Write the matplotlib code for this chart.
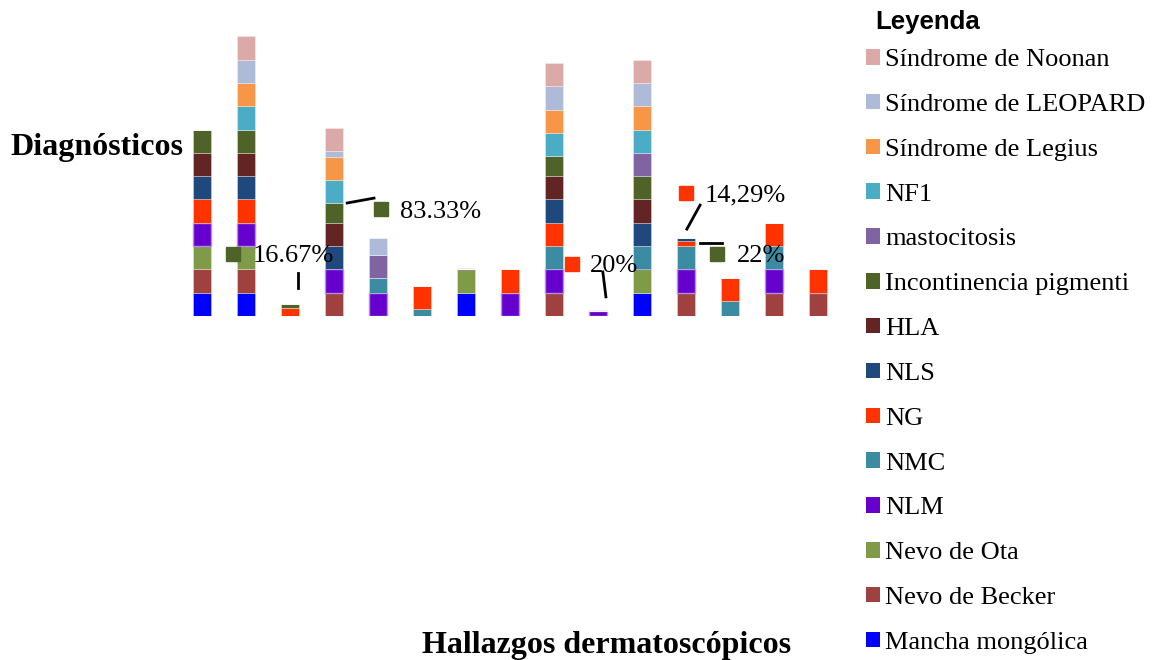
"""Stacked bars: dermatoscopic findings vs diagnoses."""

import matplotlib

matplotlib.use("Agg")
import matplotlib.pyplot as plt
import numpy as np
from matplotlib.patches import Patch

plt.rcParams["font.family"] = ["Liberation Serif", "DejaVu Serif"]

# 15 findings (x categories), unlabeled in the original
n_bars = 15

# stack order, bottom to top
series = [
    "Mancha mongólica",
    "Nevo de Becker",
    "Nevo de Ota",
    "NLM",
    "NMC",
    "NG",
    "NLS",
    "HLA",
    "Incontinencia pigmenti",
    "mastocitosis",
    "NF1",
    "Síndrome de Legius",
    "Síndrome de LEOPARD",
    "Síndrome de Noonan",
]
colors = [
    "#0000FF",
    "#9E413F",
    "#7F9B47",
    "#6600CC",
    "#3B8CA3",
    "#FF3300",
    "#1F497D",
    "#632523",
    "#4F6228",
    "#8064A2",
    "#4BACC6",
    "#F79646",
    "#ADBAD8",
    "#DBA9A8",
]

mancha = [1, 1, 0, 0, 0, 0, 1, 0, 0, 0, 1, 0, 0, 0, 0]
becker = [1, 1, 0, 1, 0, 0, 0, 0, 1, 0, 0, 1, 0, 1, 1]
ota = [1, 1, 0, 0, 0, 0, 1, 0, 0, 0, 1, 0, 0, 0, 0]
nlm = [1, 1, 0, 1, 1, 0, 0, 1, 1, 0.22, 0, 1, 0, 1, 0]
nmc = [0, 0, 0, 0, 0.62, 0.3, 0, 0, 1, 0, 1, 1, 0.64, 1, 0]
ng = [1, 1, 0.33, 0, 0, 1, 0, 1, 1, 0, 0, 0.22, 1, 1, 1]
nls = [1, 1, 0, 1, 0, 0, 0, 0, 1, 0, 1, 0.14, 0, 0, 0]
hla = [1, 1, 0, 1, 0, 0, 0, 0, 1, 0, 1, 0, 0, 0, 0]
incont = [1, 1, 0.17, 0.83, 0, 0, 0, 0, 0.86, 0, 1, 0, 0, 0, 0]
masto = [0, 0, 0, 0, 1, 0, 0, 0, 0, 0, 1, 0, 0, 0, 0]
nf1 = [0, 1, 0, 1, 0, 0, 0, 0, 1, 0, 1, 0, 0, 0, 0]
legius = [0, 1, 0, 1, 0, 0, 0, 0, 1, 0, 1, 0, 0, 0, 0]
leopard = [0, 1, 0, 0.25, 0.71, 0, 0, 0, 1, 0, 1, 0, 0, 0, 0]
noonan = [0, 1, 0, 1, 0, 0, 0, 0, 1, 0, 1, 0, 0, 0, 0]

values = [mancha, becker, ota, nlm, nmc, ng, nls, hla, incont, masto,
          nf1, legius, leopard, noonan]

# data labels: text, colour of key square, key pos, text pos, leader line
labels = [
    ("16.67%", "#4F6228", (0.70, 2.66), (1.16, 2.58), ((2.18, 1.85), (2.18, 1.20))),
    ("83.33%", "#4F6228", (4.07, 4.59), (4.50, 4.46), ((3.30, 4.85), (3.91, 5.06))),
    ("20%", "#FF3300", (8.41, 2.23), (8.82, 2.15), ((9.11, 1.89), (9.18, 0.82))),
    ("14,29%", "#FF3300", (11.00, 5.28), (11.43, 5.19), ((11.32, 4.76), (11.02, 3.73))),
    ("22%", "#4F6228", (11.70, 2.66), (12.16, 2.58), ((11.32, 3.13), (11.82, 3.13))),
]

W, H = 1153, 660
fig = plt.figure(figsize=(W / 100, H / 100), dpi=100)
ax = fig.add_axes([180 / W, 344 / H, 660 / W, 13 * 23.3 / H])

x = np.arange(n_bars)
bottom = np.zeros(n_bars)
for name, col, vals in zip(series, colors, values):
    vals = np.array(vals, dtype=float)
    lw = 1.0 if name == "NLM" else 0.5
    ec = "#B48BEA" if name == "NLM" else (1, 1, 1, 0.45)
    ax.bar(x, vals, 0.42, bottom=bottom, color=col, edgecolor=ec, linewidth=lw)
    bottom += vals

for text, col, key, tpos, line in labels:
    ax.plot(*key, marker="s", markersize=10, color=col, linestyle="none")
    ax.text(*tpos, text, fontsize=19, va="center", ha="left")
    (x0, y0), (x1, y1) = line
    ax.plot([x0, x1], [y0, y1], color="black", linewidth=2)

ax.set_xlim(-0.5, n_bars - 0.5)
ax.set_ylim(0, 13)
ax.axis("off")

fig.text(10 / W, 1 - 148 / H, "Diagnósticos", fontsize=23, fontweight="bold",
         ha="left", va="center")
fig.text(607 / W, 1 - 645 / H, "Hallazgos dermatoscópicos", fontsize=23,
         fontweight="bold", ha="center", va="center")
fig.text(875 / W, 1 - 22 / H, "Leyenda", fontsize=18.5, fontweight="bold",
         family="Liberation Sans", ha="left", va="center")

handles = [Patch(facecolor=c, edgecolor="none", label=s)
           for s, c in zip(series[::-1], colors[::-1])]
leg = fig.legend(
    handles=handles,
    loc="upper left",
    bbox_to_anchor=(866 / W, 1 - 49 / H),
    frameon=False,
    fontsize=19,
    handlelength=0.53,
    handleheight=0.53,
    handletextpad=0.19,
    labelspacing=0.86,
    borderpad=0,
    borderaxespad=0,
)

fig.savefig("out.png", dpi=100)
